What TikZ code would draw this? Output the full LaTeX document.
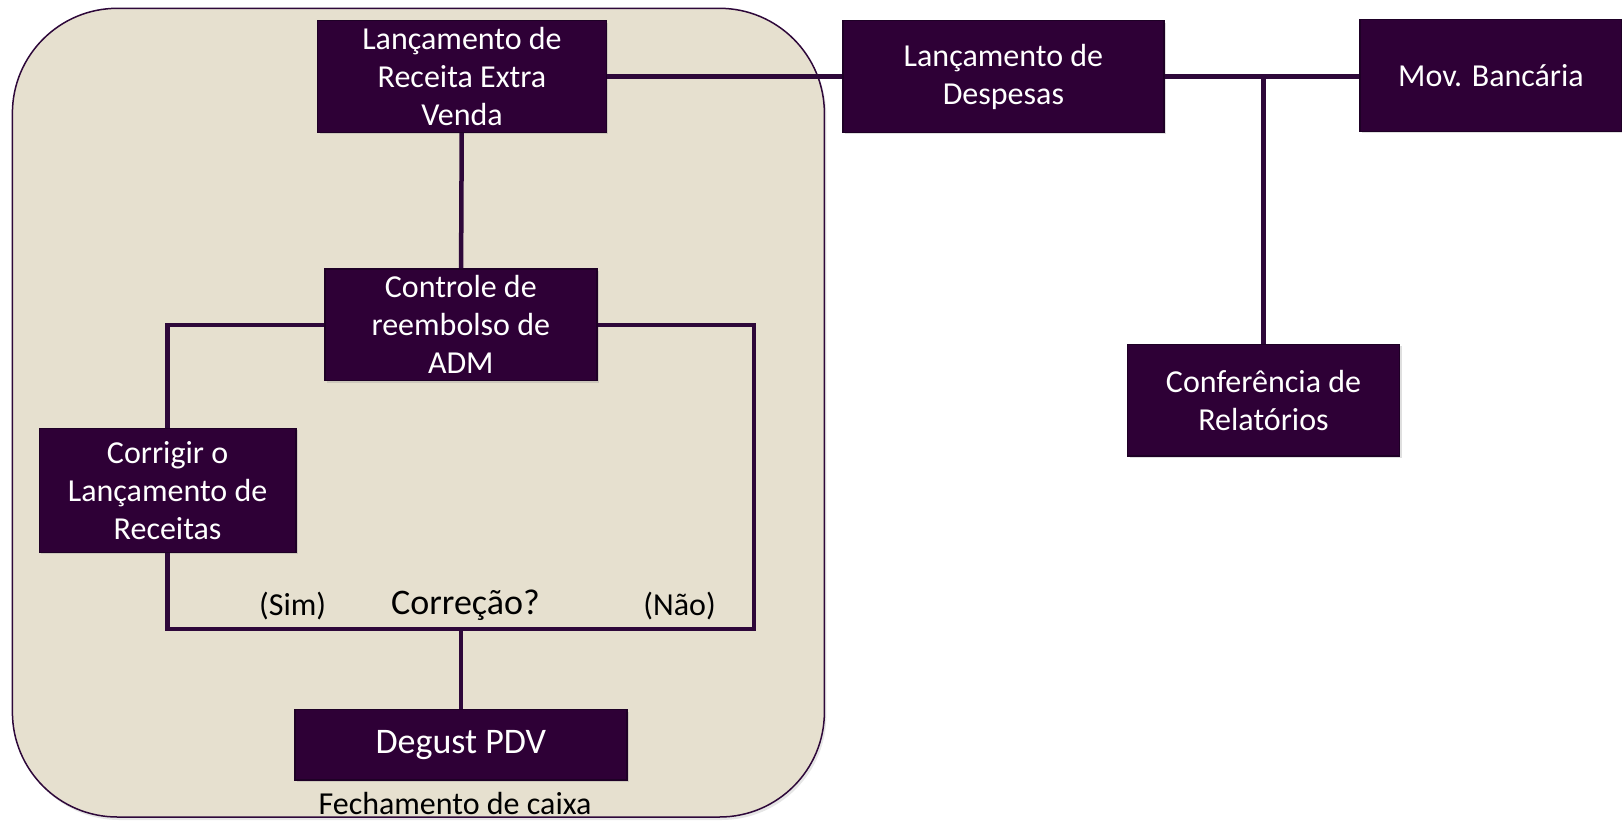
\documentclass[tikz,border=0pt]{standalone}
\usepackage{fontspec}
\setmainfont{Carlito}
\usepackage{tikz}
\usetikzlibrary{calc}
\usetikzlibrary{shadows}
\definecolor{boxfill}{RGB}{46,0,54}
\definecolor{boxedge}{RGB}{30,0,38}
\definecolor{linecol}{RGB}{46,8,58}
\definecolor{caixa}{RGB}{230,224,207}
\tikzstyle{process}=[rectangle,fill=boxfill,draw=boxedge,line width=1.5pt,text=white,
                     align=center,inner sep=0pt,font=\fontsize{32}{38}\selectfont,
                     drop shadow={shadow xshift=2pt,shadow yshift=-2pt,opacity=0.25}]
\tikzstyle{wire}=[draw=linecol,line width=4.5pt]
\tikzstyle{answer}=[text=black,inner sep=0pt,font=\fontsize{32}{38}\selectfont]

\begin{document}
\begin{tikzpicture}[x=1pt,y=-1pt]
            \useasboundingbox (0,0) rectangle (1622,820);

            % FECHAMENTO DE CAIXA (background)
            \draw[fill=caixa,draw=linecol,line width=1.5pt,rounded corners=105pt,
                  drop shadow={shadow xshift=2pt,shadow yshift=-3pt,opacity=0.2}]
                (12.4,8.3) rectangle (824.4,817);

            % BOXES
            \node[process,minimum width=288.6pt,minimum height=111.7pt] (receita) at (462,76.5)
                {Lançamento de\\Receita Extra\\Venda};
            \node[process,minimum width=320.7pt,minimum height=111.7pt] (despesas) at (1003.4,76.5)
                {Lançamento de\\Despesas};
            \node[process,minimum width=262pt,minimum height=111.7pt] (banco) at (1491,75.5)
                {Mov. Bancária};
            \node[process,minimum width=272pt,minimum height=111.7pt] (relatorios) at (1263.5,400.3)
                {Conferência de\\Relatórios};
            \node[process,minimum width=272pt,minimum height=111.7pt] (reembolso) at (460.8,324.8)
                {Controle de\\reembolso de\\ADM};
            \node[process,minimum width=256.5pt,minimum height=124pt] (corrigir) at (167.6,490.3)
                {Corrigir o\\Lançamento de\\Receitas};
            \node[process,minimum width=332pt,minimum height=70.3pt,
                  font=\fontsize{36}{43}\selectfont] (pdv) at (460.8,744.8) {Degust PDV};

            % LABELS
            \node[answer] (caixatxt) at (455,803.7) {Fechamento de caixa};
            \node[answer] (sim) at (292.7,606) {(Sim)};
            \node[answer,font=\fontsize{36}{43}\selectfont] (correcao) at (465.5,605) {Correção?};
            \node[answer] (nao) at (679.6,606) {(Não)};

            % CONNECTORS
            \coordinate (direita) at (754,629);
            \draw[wire] (receita.east |- despesas.west) -- (despesas.west);
            \draw[wire] (despesas.east) -- (despesas.east -| banco.west);
            \draw[wire] (relatorios.north) -- (relatorios.north |- despesas.east);
            \draw[wire] (receita) -- (reembolso);
            \draw[wire] (reembolso.west) -| (corrigir.north);
            \draw[wire] (reembolso.east) -| (direita) -| (corrigir.south);
            \draw[wire] (pdv.north) -- (pdv.north |- direita);

\end{tikzpicture}
\end{document}
